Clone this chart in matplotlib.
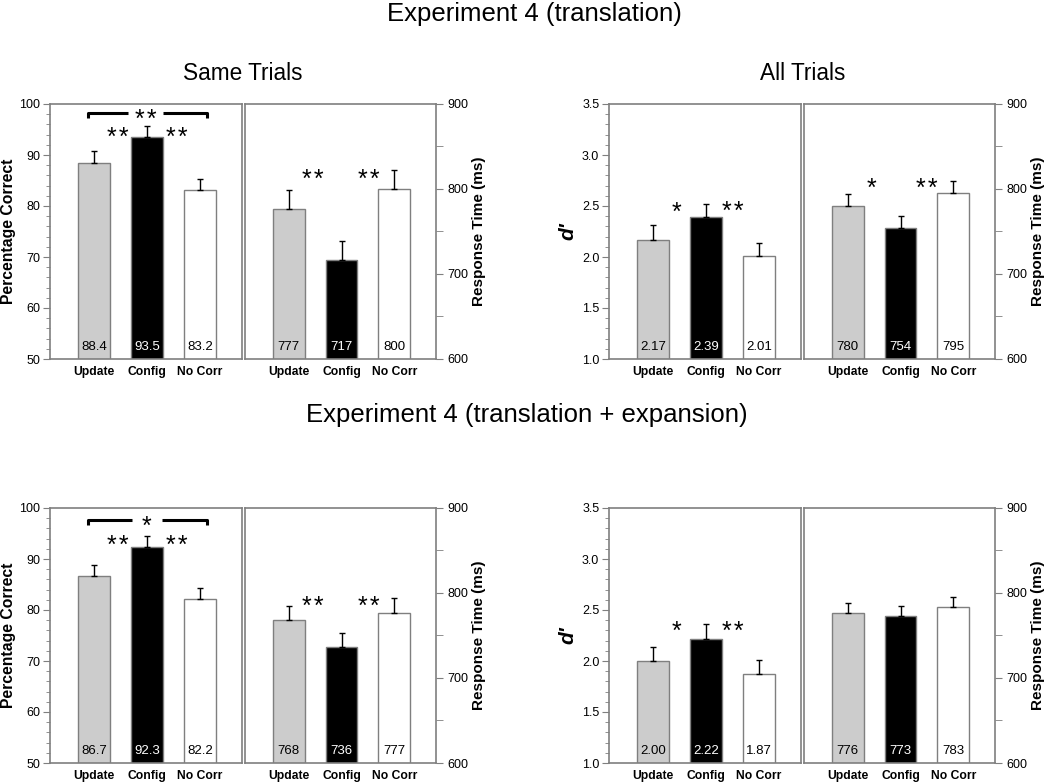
import matplotlib
matplotlib.use('Agg')
import matplotlib.pyplot as plt
from matplotlib.ticker import MultipleLocator
import matplotlib.transforms as mtransforms

plt.rcParams['font.family'] = ['Liberation Sans', 'DejaVu Sans']

groups = ['Update', 'Config', 'No Corr']
bar_colors = ['#cccccc', '#000000', '#ffffff']
label_colors = ['black', 'white', 'black']

# Experiment 4 (translation)
acc_t = [88.4, 93.5, 83.2]
acc_t_err = [2.3, 2.2, 2.1]
rt_same_t = [777, 717, 800]
rt_same_t_err = [22, 22, 22]
dp_t = [2.17, 2.39, 2.01]
dp_t_err = [0.14, 0.13, 0.13]
rt_all_t = [780, 754, 795]
rt_all_t_err = [14, 14, 14]

# Experiment 4 (translation + expansion)
acc_te = [86.7, 92.3, 82.2]
acc_te_err = [2.2, 2.2, 2.2]
rt_same_te = [768, 736, 777]
rt_same_te_err = [17, 17, 17]
dp_te = [2.00, 2.22, 1.87]
dp_te_err = [0.14, 0.14, 0.14]
rt_all_te = [776, 773, 783]
rt_all_te_err = [12.5, 12, 12]

# significance marks: (x, y, text)
stars_acc_t = [(0.45, 94.8, '**'), (1.57, 94.8, '**')]
stars_rt_same_t = [(0.45, 819, '**'), (1.52, 819, '**')]
stars_dp_t = [(0.45, 2.51, '*'), (1.5, 2.51, '**')]
stars_rt_all_t = [(0.45, 809, '*'), (1.5, 809, '**')]
stars_acc_te = [(0.45, 94.0, '**'), (1.57, 94.0, '**')]
stars_rt_same_te = [(0.45, 792, '**'), (1.52, 792, '**')]
stars_dp_te = [(0.45, 2.36, '*'), (1.5, 2.36, '**')]
stars_rt_all_te = []

# bracket: (y, tip_y, text)
bracket_t = (98.3, 97.3, '**')
bracket_te = (97.7, 96.7, '*')

GRAY = '#7f7f7f'
STAR_FS = 18

fig = plt.figure(figsize=(10.5, 7.84), dpi=100)

W = 1050.0
H = 784.0
col_x = [50, 245, 609, 804]
col_w = [192, 191, 192, 191]
row_top = [104, 508]
row_h = 255


def make_ax(row, col):
    left = col_x[col] / W
    bottom = 1 - (row_top[row] + row_h) / H
    return fig.add_axes([left, bottom, col_w[col] / W, row_h / H])


def draw_bars(ax, vals, errs, fmt):
    x = range(len(vals))
    ax.bar(x, vals, width=0.6, color=bar_colors, edgecolor=GRAY, linewidth=1.0,
           yerr=[[0] * len(errs), errs], error_kw=dict(ecolor='black', elinewidth=1.0, capsize=2.5, capthick=1.0),
           zorder=2)
    ax.set_xlim(-0.83, 2.79)
    trans = mtransforms.blended_transform_factory(ax.transData, ax.transAxes)
    for i, v in enumerate(vals):
        ax.text(i, 0.047, fmt % v, transform=trans, ha='center', va='center',
                fontsize=9.5, color=label_colors[i], zorder=3)
    ax.set_xticks(list(x))
    ax.set_xticklabels(groups, fontweight='bold', fontsize=8.7)
    ax.tick_params(axis='x', length=0, pad=5)
    for s in ax.spines.values():
        s.set_color(GRAY)
        s.set_linewidth(1.2)


def star_text(ax, x, y, t):
    # asterisks sit high in the em box, so anchor at baseline and shift down
    off = mtransforms.ScaledTranslation(0, -0.58 * STAR_FS / 72.0, fig.dpi_scale_trans)
    ax.text(x, y, '\u200a'.join(t), ha='center', va='baseline', fontsize=STAR_FS,
            transform=ax.transData + off, zorder=4)


def draw_stars(ax, stars):
    for x, y, t in stars:
        star_text(ax, x, y, t)


def draw_bracket(ax, br, gap):
    y, tip, t = br
    ax.plot([-0.11, -0.11, gap[0]], [tip, y, y], color='black', lw=2.2, solid_capstyle='butt')
    ax.plot([gap[1], 2.13, 2.13], [y, y, tip], color='black', lw=2.2, solid_capstyle='butt')
    star_text(ax, 0.98, y, t)


def left_axis(ax, lo, hi, major, minor, label, italic=False, lx=-0.19):
    ax.set_ylim(lo, hi)
    ax.yaxis.set_major_locator(MultipleLocator(major))
    ax.yaxis.set_minor_locator(MultipleLocator(minor))
    ax.tick_params(axis='y', which='major', length=5, color=GRAY, labelsize=9, pad=2)
    ax.tick_params(axis='y', which='minor', length=3, color=GRAY)
    if italic:
        ax.set_ylabel(label, fontsize=15, fontweight='bold', fontstyle='italic')
    else:
        ax.set_ylabel(label, fontsize=11.3, fontweight='bold')
    ax.yaxis.set_label_coords(lx, 0.5)


def rt_axis(ax):
    ax.set_ylim(600, 900)
    ax.yaxis.tick_right()
    ax.yaxis.set_label_position('right')
    ax.yaxis.set_major_locator(MultipleLocator(100))
    ax.yaxis.set_minor_locator(MultipleLocator(50))
    ax.tick_params(axis='y', which='major', length=5, color=GRAY, labelsize=9, pad=3)
    ax.tick_params(axis='y', which='minor', length=5, color=GRAY)
    ax.set_ylabel('Response Time (ms)', fontsize=11, fontweight='bold')
    ax.yaxis.set_label_coords(1.19, 0.5)


rows = [
    (acc_t, acc_t_err, stars_acc_t, bracket_t, (0.64, 1.3),
     rt_same_t, rt_same_t_err, stars_rt_same_t,
     dp_t, dp_t_err, stars_dp_t,
     rt_all_t, rt_all_t_err, stars_rt_all_t),
    (acc_te, acc_te_err, stars_acc_te, bracket_te, (0.72, 1.28),
     rt_same_te, rt_same_te_err, stars_rt_same_te,
     dp_te, dp_te_err, stars_dp_te,
     rt_all_te, rt_all_te_err, stars_rt_all_te),
]

for r, (acc, acc_err, s_acc, br, gap, rts, rts_err, s_rts, dp, dp_err, s_dp, rta, rta_err, s_rta) in enumerate(rows):
    ax = make_ax(r, 0)
    draw_bars(ax, acc, acc_err, '%.1f')
    left_axis(ax, 50, 100, 10, 2, 'Percentage Correct', lx=-0.175)
    draw_stars(ax, s_acc)
    draw_bracket(ax, br, gap)

    ax = make_ax(r, 1)
    draw_bars(ax, rts, rts_err, '%d')
    rt_axis(ax)
    draw_stars(ax, s_rts)

    ax = make_ax(r, 2)
    draw_bars(ax, dp, dp_err, '%.2f')
    left_axis(ax, 1.0, 3.5, 0.5, 0.1, "d'", italic=True, lx=-0.165)
    ax.yaxis.set_major_formatter(plt.FormatStrFormatter('%.1f'))
    draw_stars(ax, s_dp)

    ax = make_ax(r, 3)
    draw_bars(ax, rta, rta_err, '%d')
    rt_axis(ax)
    draw_stars(ax, s_rta)

fig.text(534 / W, 1 - 14 / H, 'Experiment 4 (translation)', ha='center', va='center', fontsize=18.5)
fig.text(243 / W, 1 - 73 / H, 'Same Trials', ha='center', va='center', fontsize=16.3)
fig.text(803 / W, 1 - 73 / H, 'All Trials', ha='center', va='center', fontsize=16.3)
fig.text(527 / W, 1 - 415 / H, 'Experiment 4 (translation + expansion)', ha='center', va='center', fontsize=18.5)

fig.savefig('out.png', dpi=100)
